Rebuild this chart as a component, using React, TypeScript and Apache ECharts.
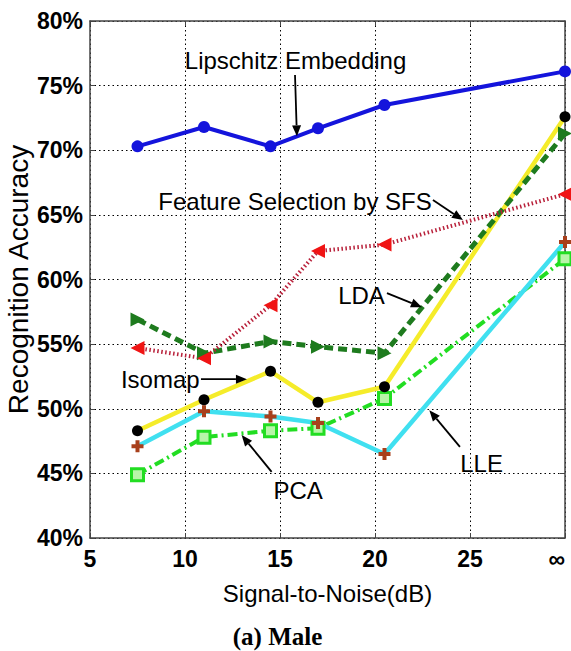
import React, { useEffect, useRef } from "react";
import * as echarts from "echarts";

// SNR levels (dB); the last column is the noise-free case drawn at the "∞" tick
const snr = [7.5, 11, 14.5, 17, 20.5, 30];
const xTickValues = [5, 10, 15, 20, 25, 30];
const xTickLabels = ["5", "10", "15", "20", "25", "∞"];

// Recognition accuracy (%) per method
const lipschitz = [70.3, 71.8, 70.3, 71.7, 73.5, 76.1];
const sfs = [54.7, 53.9, 58.0, 62.2, 62.7, 66.6];
const lda = [56.9, 54.3, 55.2, 54.8, 54.3, 71.3];
const isomap = [48.3, 50.7, 52.9, 50.5, 51.7, 72.6];
const lle = [47.1, 49.8, 49.4, 48.9, 46.5, 62.9];
const pca = [44.9, 47.8, 48.3, 48.5, 50.8, 61.6];

// Callouts: label centre, arrow start and arrow tip, all in data coordinates
const callouts = [
  { text: "Lipschitz Embedding", at: [15.82, 76.98], from: [15.79, 75.82], to: [15.89, 71.08] },
  { text: "Feature Selection by SFS", at: [15.79, 66.01], from: [23.05, 66.15], to: [24.63, 64.6] },
  { text: "LDA", at: [19.29, 58.79], from: [20.63, 58.95], to: [22.47, 57.86] },
  { text: "Isomap", at: [8.7, 52.29], from: [10.84, 52.29], to: [13.26, 52.29] },
  { text: "PCA", at: [15.95, 43.7], from: [14.56, 45.12], to: [12.98, 47.96] },
  { text: "LLE", at: [25.61, 45.75], from: [24.47, 47.05], to: [22.86, 49.89] },
];

const W = 571;
const H = 651;
const SANS = '"Liberation Sans", Arial, Helvetica, sans-serif';
const PLUS = "path://M4,0L8,0L8,4L12,4L12,8L8,8L8,12L4,12L4,8L0,8L0,4L4,4Z";

const pairs = (ys: number[]) => snr.map((x, i) => [x, ys[i]]);

export default function App() {
  const ref = useRef<HTMLDivElement>(null);

  useEffect(() => {
    if (!ref.current) return;
    const chart = echarts.init(ref.current, undefined, { renderer: "svg" });

    const axisLine = { show: true, lineStyle: { color: "#444", width: 1.5 } };
    const tick = { show: true, inside: true, length: 5, lineStyle: { color: "#444" } };
    const grid = { show: true, lineStyle: { color: "#000", width: 1, type: [1.5, 3] as number[] } };
    const tickLabel = {
      color: "#000",
      fontFamily: SANS,
      fontWeight: "bold",
      fontSize: 23,
    };

    chart.setOption({
      animation: false,
      backgroundColor: "#fff",
      grid: {
        left: 90,
        right: 6,
        top: 21,
        bottom: 113,
        containLabel: false,
        outerBoundsMode: "none",
      },
      xAxis: [
        {
          type: "value",
          min: 5,
          max: 30,
          interval: 5,
          axisLine,
          axisTick: tick,
          splitLine: grid,
          axisLabel: {
            ...tickLabel,
            margin: 9,
            alignMaxLabel: "right",
            formatter: (v: number) => {
              const i = xTickValues.indexOf(v);
              return i >= 0 ? xTickLabels[i] : "";
            },
          },
          name: "Signal-to-Noise(dB)",
          nameLocation: "middle",
          nameGap: 43,
          nameMoveOverlap: false,
          nameTextStyle: { color: "#000", fontFamily: SANS, fontSize: 24 },
        },
        {
          type: "value",
          position: "top",
          min: 5,
          max: 30,
          interval: 5,
          axisLine,
          axisTick: tick,
          axisLabel: { show: false },
          splitLine: { show: false },
        },
      ],
      yAxis: [
        {
          type: "value",
          min: 40,
          max: 80,
          interval: 5,
          axisLine,
          axisTick: tick,
          splitLine: grid,
          axisLabel: {
            ...tickLabel,
            margin: 7,
            formatter: (v: number) => `${v}%`,
          },
          name: "Recognition Accuracy",
          nameLocation: "middle",
          nameGap: 58,
          nameMoveOverlap: false,
          nameTextStyle: { color: "#000", fontFamily: SANS, fontSize: 28 },
        },
        {
          type: "value",
          position: "right",
          min: 40,
          max: 80,
          interval: 5,
          axisLine,
          axisTick: tick,
          axisLabel: { show: false },
          splitLine: { show: false },
        },
      ],
      series: [
        {
          name: "PCA",
          type: "line",
          data: pairs(pca),
          symbol: "rect",
          symbolSize: 12,
          lineStyle: { color: "#22dd22", width: 4, type: [10, 4, 2, 4] },
          itemStyle: { color: "#b8f5a8", borderColor: "#22dd22", borderWidth: 3 },
        },
        {
          name: "LLE",
          type: "line",
          data: pairs(lle),
          symbol: PLUS,
          symbolSize: 12,
          lineStyle: { color: "#40e0f0", width: 4.5 },
          itemStyle: { color: "#a8401c" },
        },
        {
          name: "Isomap",
          type: "line",
          data: pairs(isomap),
          symbol: "circle",
          symbolSize: 11,
          lineStyle: { color: "#f5ec2a", width: 4.5 },
          itemStyle: { color: "#000" },
        },
        {
          name: "LDA",
          type: "line",
          data: pairs(lda),
          symbol: "triangle",
          symbolRotate: -90,
          symbolSize: 14,
          lineStyle: { color: "#1e7b1e", width: 5, type: [9, 5] },
          itemStyle: { color: "#1e7b1e" },
        },
        {
          name: "Feature Selection by SFS",
          type: "line",
          data: pairs(sfs),
          symbol: "triangle",
          symbolRotate: 90,
          symbolSize: 14,
          lineStyle: { color: "#b8203a", width: 4, type: [1.5, 2.5] },
          itemStyle: { color: "#f01414" },
        },
        {
          name: "Lipschitz Embedding",
          type: "line",
          data: pairs(lipschitz),
          symbol: "circle",
          symbolSize: 12,
          lineStyle: { color: "#1414dc", width: 4 },
          itemStyle: { color: "#1414dc" },
        },
      ],
    });

    // Callout labels and arrows, positioned through the grid's own scales
    const toPx = (p: number[]) => chart.convertToPixel({ gridIndex: 0 }, p) as number[];
    const graphics: any[] = [];
    callouts.forEach((c) => {
      const at = toPx(c.at);
      const a = toPx(c.from);
      const b = toPx(c.to);
      const dx = b[0] - a[0];
      const dy = b[1] - a[1];
      const len = Math.hypot(dx, dy) || 1;
      const ux = dx / len;
      const uy = dy / len;
      const headL = 11;
      const headW = 4.5;
      const bx = b[0] - ux * headL;
      const by = b[1] - uy * headL;
      graphics.push({
        type: "line",
        z: 100,
        shape: { x1: a[0], y1: a[1], x2: bx, y2: by },
        style: { stroke: "#000", lineWidth: 1.8 },
      });
      graphics.push({
        type: "polygon",
        z: 100,
        shape: {
          points: [
            [b[0], b[1]],
            [bx - uy * headW, by + ux * headW],
            [bx + uy * headW, by - ux * headW],
          ],
        },
        style: { fill: "#000" },
      });
      graphics.push({
        type: "text",
        z: 100,
        x: at[0],
        y: at[1],
        style: {
          text: c.text,
          font: `24px ${SANS}`,
          fill: "#000",
          align: "center",
          verticalAlign: "middle",
          textAlign: "center",
          textVerticalAlign: "middle",
        },
      });
    });
    graphics.push({
      type: "text",
      x: 277.5,
      y: 636,
      style: {
        text: "(a) Male",
        font: 'bold 25px "Liberation Serif", "Times New Roman", serif',
        fill: "#000",
        align: "center",
        verticalAlign: "middle",
        textAlign: "center",
        textVerticalAlign: "middle",
      },
    });
    chart.setOption({ graphic: graphics });

    return () => chart.dispose();
  }, []);

  return (
    <div
      ref={ref}
      style={{ position: "fixed", left: 0, top: 0, width: W, height: H, background: "#fff" }}
    />
  );
}
